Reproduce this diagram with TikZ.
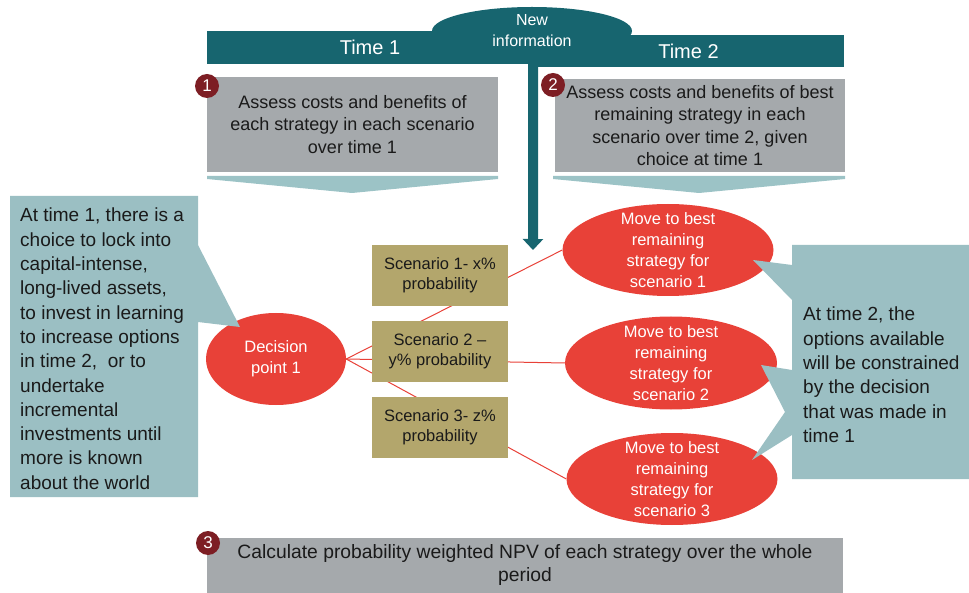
\documentclass[tikz,border=0pt]{standalone}
\usepackage{fontspec}
\setmainfont{Liberation Sans}
\usetikzlibrary{shapes.geometric,arrows.meta}
\definecolor{bandteal}{RGB}{23,101,111}
\definecolor{boxgray}{RGB}{165,169,172}
\definecolor{chevteal}{RGB}{156,195,198}
\definecolor{calloutteal}{RGB}{155,191,195}
\definecolor{decred}{RGB}{232,65,56}
\definecolor{badgered}{RGB}{125,30,36}
\definecolor{olive}{RGB}{179,166,108}
\definecolor{inkblack}{RGB}{26,26,26}

\begin{document}
\begin{tikzpicture}[x=1pt,y=-1pt,inner sep=0pt,text=inkblack,
                    font=\fontsize{18}{22.5}\selectfont]
  \tikzstyle{band}=[fill=bandteal,text=white,font=\fontsize{20}{24}\selectfont]
  \tikzstyle{stepbox}=[fill=boxgray,align=center]
  \tikzstyle{badge}=[circle,fill=badgered,text=white,minimum size=24pt,
                     font=\fontsize{17}{20}\selectfont]
  \tikzstyle{oval}=[ellipse,fill=decred,draw=none]
  \tikzstyle{ovaltext}=[text=white,align=center,font=\fontsize{16.5}{21}\selectfont]
  \tikzstyle{scen}=[fill=olive,minimum width=136pt,minimum height=61pt,align=center,
                    font=\fontsize{16.5}{20}\selectfont]
  \tikzstyle{calltext}=[anchor=north west,align=left,font=\fontsize{19}{24.3}\selectfont]
  \tikzstyle{branch}=[draw=decred,line width=1pt]
  \useasboundingbox (0,0) rectangle (969,593);

  % header
  \node[band,minimum width=326pt,minimum height=33pt] (band1) at (370,47.5) {Time 1};
  \node[band,minimum width=311pt,minimum height=32pt] (band2) at (688.5,51) {Time 2};
  \node[oval,fill=bandteal,minimum width=200pt,minimum height=48pt] (info) at (532,31) {};
  \node[ovaltext,font=\fontsize{16}{21}\selectfont] (infot) at (532,30.5) {New\\information};
  \coordinate (arrtip) at (533,250);
  \draw[bandteal,line width=10pt,-{Triangle[width=20pt,length=11pt]}] (band1.south east) -- (arrtip);

  % steps 1 and 2
  \node[stepbox,minimum width=291pt,minimum height=95pt] (box1) at (352.5,124.5)
       {Assess costs and benefits of\\each strategy in each scenario\\over time 1};
  \node[stepbox,minimum width=290pt,minimum height=93pt] (box2) at (700,125.5)
       {Assess costs and benefits of best\\remaining strategy in each\\scenario over time 2, given\\choice at time 1};
  \fill[chevteal] (207,176) -- (498,176) -- (498,179) -- (352,193) -- (207,179) -- cycle;
  \fill[chevteal] (553,176) -- (845,176) -- (845,179) -- (699,193) -- (553,179) -- cycle;
  \node[badge] (b1) at (207,86) {1};
  \node[badge] (b2) at (553,85) {2};

  % decision tree
  \node[oval,minimum width=140pt,minimum height=92pt] (dp) at (276,359) {};
  \node[ovaltext] (dpt) at (dp) {Decision\\point 1};
  \node[oval,minimum width=211pt,minimum height=92pt] (e1) at (668,250) {};
  \node[oval,minimum width=212pt,minimum height=93pt] (e2) at (671,363) {};
  \node[oval,minimum width=211pt,minimum height=92pt] (e3) at (672,479) {};
  \node[ovaltext] (e1t) at (e1) {Move to best\\remaining\\strategy for\\scenario 1};
  \node[ovaltext] (e2t) at (e2) {Move to best\\remaining\\strategy for\\scenario 2};
  \node[ovaltext] (e3t) at (e3) {Move to best\\remaining\\strategy for\\scenario 3};

  \draw[branch] (dp.east) -- (e1.west);
  \draw[branch] (dp.east) -- (e2.west);
  \draw[branch] (dp.east) -- (e3.west);

  \node[scen] (s1) at (440,275.5) {Scenario 1- x\%\\probability};
  \node[scen] (s2) at (440,351.5) {Scenario 2 --\\y\% probability};
  \node[scen] (s3) at (440,427.5) {Scenario 3- z\%\\probability};

  % callouts
  \fill[calloutteal] (10,196) -- (198,196) -- (198,245) -- (240,327) -- (198,322)
       -- (198,497) -- (10,497) -- cycle;
  \node[calltext] (lefttext) at (20,208)
       {At time 1, there is a\\choice to lock into\\capital-intense,\\long-lived assets,\\to invest in learning\\to increase options\\in time 2, \ or to\\undertake\\incremental\\investments until\\more is known\\about the world};
  \fill[calloutteal] (792,245) -- (969,245) -- (969,479) -- (792,479) -- (792,435)
       -- (752,460) -- (785,412) -- (761,365) -- (792,370) -- (792,300)
       -- (753,260) -- (792,265) -- cycle;
  \node[calltext] (righttext) at (803,307)
       {At time 2, the\\options available\\will be constrained\\by the decision\\that was made in\\time 1};

  % step 3
  \node[stepbox,minimum width=636pt,minimum height=55pt,
        font=\fontsize{19.3}{23}\selectfont] (box3) at (525,565.5)
       {Calculate probability weighted NPV of each strategy over the whole\\period};
  \node[badge] (b3) at (208,543) {3};
\end{tikzpicture}
\end{document}
